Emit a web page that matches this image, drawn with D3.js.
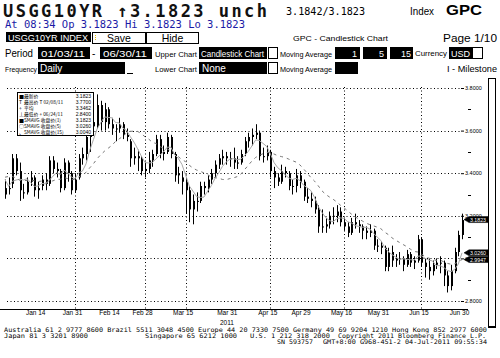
<!DOCTYPE html>
<html><head><meta charset="utf-8">
<script src="https://cdn.jsdelivr.net/npm/d3@7"></script>
<style>
html,body{margin:0;padding:0;background:#fff;}
svg{display:block;}
</style></head><body>
<svg id="c" width="500" height="358"></svg>
<script>
// ---------------- DATA ----------------
const dates = [
"01/03","01/04","01/05","01/06","01/07","01/10","01/11","01/12","01/13","01/14","01/18","01/19","01/20","01/21","01/24","01/25","01/26","01/27","01/28","01/31",
"02/01","02/02","02/03","02/04","02/07","02/08","02/09","02/10","02/11","02/14","02/15","02/16","02/17","02/18","02/22","02/23","02/24","02/25","02/28",
"03/01","03/02","03/03","03/04","03/07","03/08","03/09","03/10","03/11","03/14","03/15","03/16","03/17","03/18","03/21","03/22","03/23","03/24","03/25","03/28","03/29","03/30","03/31",
"04/01","04/04","04/05","04/06","04/07","04/08","04/11","04/12","04/13","04/14","04/15","04/18","04/19","04/20","04/21","04/25","04/26","04/27","04/28","04/29",
"05/02","05/03","05/04","05/05","05/06","05/09","05/10","05/11","05/12","05/13","05/16","05/17","05/18","05/19","05/20","05/23","05/24","05/25","05/26","05/27","05/31",
"06/01","06/02","06/03","06/06","06/07","06/08","06/09","06/10","06/13","06/14","06/15","06/16","06/17","06/20","06/21","06/22","06/23","06/24","06/27","06/28","06/29","06/30"];
const opens = [
3.30,3.33,3.35,3.47,3.41,3.31,3.31,3.36,3.38,3.32,3.34,3.37,3.35,3.46,3.42,3.41,3.33,3.45,3.40,3.32,
3.38,3.47,3.49,3.57,3.64,3.62,3.72,3.64,3.70,3.63,3.61,3.61,3.63,3.58,3.55,3.47,3.48,3.47,3.41,
3.42,3.46,3.49,3.56,3.49,3.50,3.57,3.49,3.39,3.38,3.36,3.32,3.23,3.27,3.27,3.34,3.33,3.37,3.40,3.44,3.47,3.48,3.47,
3.47,3.45,3.45,3.49,3.55,3.57,3.58,3.59,3.48,3.48,3.50,3.41,3.38,3.36,3.41,3.40,3.34,3.34,3.39,3.36,
3.29,3.28,3.27,3.23,3.15,3.15,3.16,3.20,3.20,3.22,3.17,3.15,3.12,3.17,3.16,3.15,3.13,3.12,3.13,3.06,3.06,
3.05,2.96,3.03,2.99,3.00,3.00,2.97,3.02,2.98,2.99,3.09,2.98,2.96,2.94,2.97,2.98,2.98,2.92,2.87,2.94,3.03,3.11];
const highs = [
3.37,3.38,3.49,3.49,3.45,3.35,3.38,3.41,3.39,3.36,3.39,3.40,3.48,3.48,3.45,3.42,3.47,3.46,3.41,3.40,
3.49,3.52,3.59,3.66,3.66,3.77,3.74,3.73,3.71,3.66,3.63,3.66,3.64,3.61,3.56,3.52,3.51,3.48,3.45,
3.50,3.51,3.58,3.58,3.53,3.59,3.58,3.50,3.43,3.41,3.38,3.34,3.30,3.31,3.36,3.36,3.39,3.42,3.46,3.49,3.51,3.50,3.50,
3.52,3.48,3.51,3.57,3.59,3.61,3.63,3.60,3.52,3.53,3.51,3.43,3.40,3.44,3.43,3.41,3.37,3.42,3.41,3.37,
3.33,3.31,3.29,3.25,3.23,3.19,3.22,3.24,3.25,3.24,3.19,3.17,3.19,3.21,3.18,3.16,3.15,3.16,3.14,3.09,3.08,
3.06,3.05,3.06,3.02,3.03,3.01,3.04,3.03,3.01,3.11,3.10,3.00,3.00,2.99,3.00,3.01,2.99,2.94,2.97,3.05,3.13,3.21];
const lows = [
3.28,3.30,3.33,3.39,3.27,3.28,3.30,3.34,3.29,3.28,3.32,3.32,3.34,3.40,3.38,3.31,3.32,3.36,3.30,3.31,
3.37,3.44,3.46,3.50,3.58,3.61,3.60,3.60,3.61,3.58,3.55,3.59,3.56,3.55,3.43,3.44,3.41,3.39,3.38,
3.40,3.43,3.48,3.47,3.46,3.49,3.47,3.36,3.35,3.30,3.21,3.17,3.16,3.22,3.26,3.30,3.31,3.35,3.38,3.42,3.44,3.44,3.43,
3.42,3.42,3.44,3.48,3.52,3.53,3.56,3.46,3.45,3.46,3.38,3.33,3.34,3.35,3.38,3.32,3.30,3.31,3.33,3.27,
3.26,3.24,3.21,3.12,3.12,3.12,3.14,3.16,3.17,3.15,3.13,3.10,3.11,3.14,3.12,3.09,3.09,3.10,3.04,3.03,3.02,
2.94,2.94,2.96,2.96,2.97,2.94,2.96,2.96,2.95,2.98,2.96,2.91,2.90,2.92,2.95,2.93,2.87,2.84,2.85,2.93,3.01,3.09];
const closes = [
3.33,3.33,3.47,3.41,3.32,3.31,3.36,3.38,3.32,3.33,3.37,3.35,3.46,3.42,3.41,3.33,3.45,3.40,3.32,3.37,
3.47,3.49,3.57,3.64,3.62,3.72,3.64,3.70,3.63,3.61,3.61,3.63,3.58,3.57,3.47,3.48,3.47,3.41,3.42,
3.46,3.49,3.56,3.49,3.50,3.57,3.49,3.39,3.40,3.36,3.32,3.23,3.27,3.27,3.34,3.33,3.37,3.40,3.44,3.47,3.48,3.47,3.47,
3.45,3.45,3.49,3.55,3.57,3.58,3.59,3.48,3.48,3.50,3.41,3.38,3.36,3.41,3.40,3.34,3.34,3.39,3.36,3.29,
3.28,3.27,3.23,3.15,3.15,3.16,3.20,3.20,3.22,3.17,3.15,3.12,3.17,3.16,3.15,3.13,3.12,3.13,3.06,3.06,3.05,
2.96,3.03,2.99,3.00,3.00,2.97,3.02,2.98,2.99,3.09,2.98,2.96,2.94,2.97,2.98,2.98,2.92,2.87,2.94,3.03,3.11,3.18];
// Dec 2010 closes used to warm up the moving averages
const priorCloses = [3.28,3.47,3.53,3.47,3.33,3.35,3.35,3.37,3.39,3.33,3.49,3.35,3.38,3.30];
const maPeriods = [5, 15];
const lastPrice = 3.1823;

const yTicks = [3.8, 3.6, 3.4, 3.2, 3.0, 2.8];
const yMinorTicks = [3.7, 3.5, 3.3, 3.1, 2.9];
const xTickDates = ["01/14","01/31","02/14","02/28","03/15","03/31","04/15","04/29","05/16","05/31","06/15","06/30"];
const xTickLabels = ["Jan 14","Jan 31","Feb 14","Feb 28","Mar 15","Mar 31","Apr 15","Apr 29","May 16","May 31","Jun 15","Jun 30"];
const xGridDates = ["01/31","02/28","03/15","04/15","05/16","06/15"];
const yearLabel = "2011";
const yearLabelDate = "03/31";

const legendSymbols = ["■","T","+","⊥","■","○","、"];
const legendLabels = ["最新价","最高价 T 02/08/11","平均","最低价 + 06/24/11","SMAVG 收盘价(1)","SMAVG 收盘价(5)","SMAVG 收盘价(15)"];
const legendValues = ["3.1823","3.7700","3.3462","2.8400","3.1823","3.0260","3.0040"];

// ---------------- DRAW ----------------
const svg = d3.select("#c");
const SANS = "'Liberation Sans', Arial, sans-serif";
const NARROW = "'Liberation Sans Narrow', 'Liberation Sans', Arial, sans-serif";
const MONO = "'DejaVu Sans Mono', 'Liberation Mono', monospace";

function txt(x, y, s, o = {}) {
  const t = svg.append("text").attr("x", x).attr("y", y).text(s)
    .attr("font-family", o.ff || SANS).attr("font-size", o.fs || 10)
    .attr("fill", o.fill || "#000");
  if (o.fw) t.attr("font-weight", o.fw);
  if (o.tl) t.attr("textLength", o.tl).attr("lengthAdjust", o.la || "spacingAndGlyphs");
  if (o.anchor) t.attr("text-anchor", o.anchor);
  return t;
}
function box(x, y, w, h, fill, stroke, sw) {
  return svg.append("rect").attr("x", x).attr("y", y).attr("width", w).attr("height", h)
    .attr("fill", fill).attr("stroke", stroke || "none").attr("stroke-width", sw || 1)
    .attr("shape-rendering", "crispEdges");
}

// Header
txt(3, 17, "USGG10YR ↑3.1823 unch", {ff: MONO, fs: 17, fw: "bold", tl: 264, la: "spacing", fill: "#111"});
txt(286, 15, "3.1842/3.1823", {ff: MONO, fs: 11, tl: 79});
txt(410, 15, "Index", {fs: 11, tl: 24});
txt(446, 15, "GPC", {fs: 14, fw: "bold", tl: 36});
txt(5, 28, "At 08:34  Op 3.1823 Hi 3.1823 Lo 3.1823", {ff: MONO, fs: 10, tl: 240, fill: "#1a1aa6"});

// Row 3
box(6, 32, 85, 10, "#000");
txt(8, 40.5, "USGG10YR INDEX", {fs: 8.5, fill: "#fff", tl: 80});
box(92.5, 32.5, 53, 10.5, "#fff", "#000");
box(146.5, 32.5, 52, 10.5, "#fff", "#000");
svg.append("line").attr("x1", 95.5).attr("x2", 95.5).attr("y1", 35).attr("y2", 41).attr("stroke", "#e8c000").attr("stroke-dasharray", "1,1");
txt(119, 41.5, "Save", {fs: 10.5, anchor: "middle"});
txt(172.5, 41.5, "Hide", {fs: 10.5, anchor: "middle"});
txt(293, 40.5, "GPC - Candlestick Chart", {ff: NARROW, fs: 8, tl: 95});
txt(443, 41.5, "Page 1/10", {fs: 10.5, tl: 54});

// Row 4
txt(5, 57, "Period", {fs: 10, tl: 28});
box(38, 47, 52, 12, "#000");
txt(41, 56.5, "01/03/11", {fs: 9, fill: "#fff", tl: 44});
txt(92, 56.5, "-", {fs: 10});
box(100, 47, 52, 12, "#000");
txt(103, 56.5, "06/30/11", {fs: 9, fill: "#fff", tl: 44});
txt(155, 57, "Upper Chart", {ff: NARROW, fs: 8, tl: 42});
box(199, 47, 68, 12, "#000");
txt(201, 56.5, "Candlestick Chart", {ff: NARROW, fs: 9, fill: "#fff", tl: 63});
box(268.5, 47.5, 9, 11, "#fff", "#000");
txt(280, 57, "Moving Average", {ff: NARROW, fs: 8, tl: 52});
box(335, 47, 25, 12, "#000");
box(363, 47, 24, 12, "#000");
box(390, 47, 23, 12, "#000");
txt(357, 56.5, "1", {fs: 9, fill: "#fff", anchor: "end"});
txt(384, 56.5, String(maPeriods[0]), {fs: 9, fill: "#fff", anchor: "end"});
txt(411, 56.5, String(maPeriods[1]), {fs: 9, fill: "#fff", anchor: "end"});
txt(415, 56, "Currency", {ff: NARROW, fs: 8, tl: 32});
box(449, 47, 23, 12, "#000");
txt(451, 56.5, "USD", {fs: 9, fill: "#fff"});
box(472.5, 47.5, 10, 11, "#fff", "#000");

// Row 5
txt(5, 72, "Frequency", {ff: NARROW, fs: 8, tl: 32});
box(38, 62, 87, 12, "#000");
txt(40, 71.5, "Daily", {fs: 10, fill: "#fff"});
svg.append("line").attr("x1", 127).attr("x2", 133).attr("y1", 73.5).attr("y2", 73.5).attr("stroke", "#000");
txt(155, 72, "Lower Chart", {ff: NARROW, fs: 8, tl: 42});
box(199, 62, 68, 12, "#000");
txt(202, 71.5, "None", {fs: 10, fill: "#fff"});
box(268.5, 62.5, 9, 11, "#fff", "#000");
txt(280, 72, "Moving Average", {ff: NARROW, fs: 8, tl: 52});
box(335, 62, 23, 12, "#000");
txt(447, 72, "I - Milestone", {ff: NARROW, fs: 9, tl: 50});

// Scrollbar-like box at right
box(488.5, 78.5, 7, 248.5, "#fff", "#000", 1.5);

// Scales
const x = d3.scalePoint().domain(dates).range([5, 462]);
const y = d3.scaleLinear().domain([2.8, 3.8]).range([301, 88]);
const px = d => Math.round(x(d));

// Gridlines
const g = svg.append("g");
g.selectAll("line.h").data(yTicks).join("line")
  .attr("x1", 7).attr("x2", 460).attr("y1", d => Math.round(y(d)) + 0.5).attr("y2", d => Math.round(y(d)) + 0.5)
  .attr("stroke", "#000").attr("stroke-dasharray", "1,2.5");
g.selectAll("line.v").data(xGridDates).join("line")
  .attr("x1", d => px(d) + 0.5).attr("x2", d => px(d) + 0.5).attr("y1", 87).attr("y2", 309)
  .attr("stroke", "#000").attr("stroke-dasharray", "1,2.5");

// X axis
svg.append("line").attr("x1", 0).attr("x2", 468).attr("y1", 309.5).attr("y2", 309.5).attr("stroke", "#000");
const xAxis = d3.axisBottom(x).tickValues(xTickDates).tickFormat((d, i) => xTickLabels[i]).tickSize(0).tickPadding(0);
const xg = svg.append("g").attr("transform", "translate(-3,311)").call(xAxis);
xg.select(".domain").remove();
xg.selectAll("text").attr("font-family", NARROW).attr("font-size", 6.5).attr("fill", "#000").attr("dy", "0.6em");
txt(px(yearLabelDate) - 3, 325, yearLabel, {ff: NARROW, fs: 6.5, anchor: "middle"});

// Y axis (right)
const yAxis = d3.axisRight(y).tickValues(yTicks).tickFormat(d3.format(".4f")).tickSize(3).tickPadding(1);
const yg = svg.append("g").attr("transform", "translate(461,0)").call(yAxis);
yg.select(".domain").remove();
yg.selectAll("line").attr("stroke", "#000");
yg.selectAll("text").attr("font-family", NARROW).attr("font-size", 5.5).attr("fill", "#000");
svg.selectAll("line.minor").data(yMinorTicks).join("line")
  .attr("x1", 468).attr("x2", 471).attr("y1", d => Math.round(y(d)) + 0.5).attr("y2", d => Math.round(y(d)) + 0.5)
  .attr("stroke", "#000");

// Candles
const candles = svg.append("g");
dates.forEach((d, i) => {
  const cx = px(d);
  candles.append("line").attr("x1", cx + 0.5).attr("x2", cx + 0.5)
    .attr("y1", y(highs[i])).attr("y2", y(lows[i])).attr("stroke", "#000").attr("stroke-width", 1);
  const top = y(Math.max(opens[i], closes[i])), bot = y(Math.min(opens[i], closes[i]));
  candles.append("rect").attr("x", cx).attr("width", 2)
    .attr("y", top).attr("height", Math.max(1, bot - top))
    .attr("fill", "#000");
});

// Moving averages
const all = priorCloses.concat(closes);
const maSeries = maPeriods.map(p => closes.map((c, i) => {
  const end = i + priorCloses.length + 1;
  return d3.mean(all.slice(end - p, end));
}));
const line = d3.line().x((v, i) => x(dates[i])).y(v => y(v));
svg.append("path").attr("d", line(maSeries[0])).attr("fill", "none")
  .attr("stroke", "#a8a8a8").attr("stroke-width", 1);
svg.append("path").attr("d", line(maSeries[1])).attr("fill", "none")
  .attr("stroke", "#777").attr("stroke-width", 1).attr("stroke-dasharray", "3,4");

// Value flags at right
function flag(v, label) {
  const yc = y(v);
  svg.append("path").attr("d", `M464,${yc} L469,${yc - 3} L488,${yc - 3} L488,${yc + 3} L469,${yc + 3} Z`)
    .attr("fill", "#000").attr("stroke", "#000").attr("stroke-width", 0.5);
  txt(470, yc + 2, label, {ff: NARROW, fs: 5.5, fill: "#fff", tl: 16});
}
flag(lastPrice, d3.format(".4f")(lastPrice));
maSeries.forEach(s => flag(s[s.length - 1], d3.format(".4f")(s[s.length - 1])));

// Legend
const lx = 17, ly = 92;
box(lx + 0.5, ly + 0.5, 76, 43, "#fff", "#000");
legendLabels.forEach((l, i) => {
  const yy = ly + 6.3 + i * 5.9;
  txt(lx + 2, yy, legendSymbols[i], {ff: "'Noto Sans CJK SC', sans-serif", fs: 5});
  txt(lx + 7, yy, l, {ff: "'Noto Sans CJK SC', sans-serif", fs: 4.8});
  txt(lx + 74, yy, legendValues[i], {ff: NARROW, fs: 5, anchor: "end"});
});

// Footer
const F = {ff: MONO, fs: 6.3};
txt(4, 331.5, "Australia 61 2 9777 8600 Brazil 5511 3048 4500 Europe 44 20 7330 7500 Germany 49 69 9204 1210 Hong Kong 852 2977 6000", Object.assign({tl: 483}, F));
txt(4, 337.5, "Japan 81 3 3201 8900", Object.assign({tl: 84}, F));
txt(145, 337.5, "Singapore 65 6212 1000", Object.assign({tl: 92}, F));
txt(250, 337.5, "U.S. 1 212 318 2000", Object.assign({tl: 80}, F));
txt(338, 337.5, "Copyright 2011 Bloomberg Finance L.P.", Object.assign({tl: 148}, F));
txt(277, 343.5, "SN 593757", Object.assign({tl: 36}, F));
txt(323, 343.5, "GMT+8:00 G968-451-2 04-Jul-2011 09:55:34", Object.assign({tl: 164}, F));
</script>
</body></html>
